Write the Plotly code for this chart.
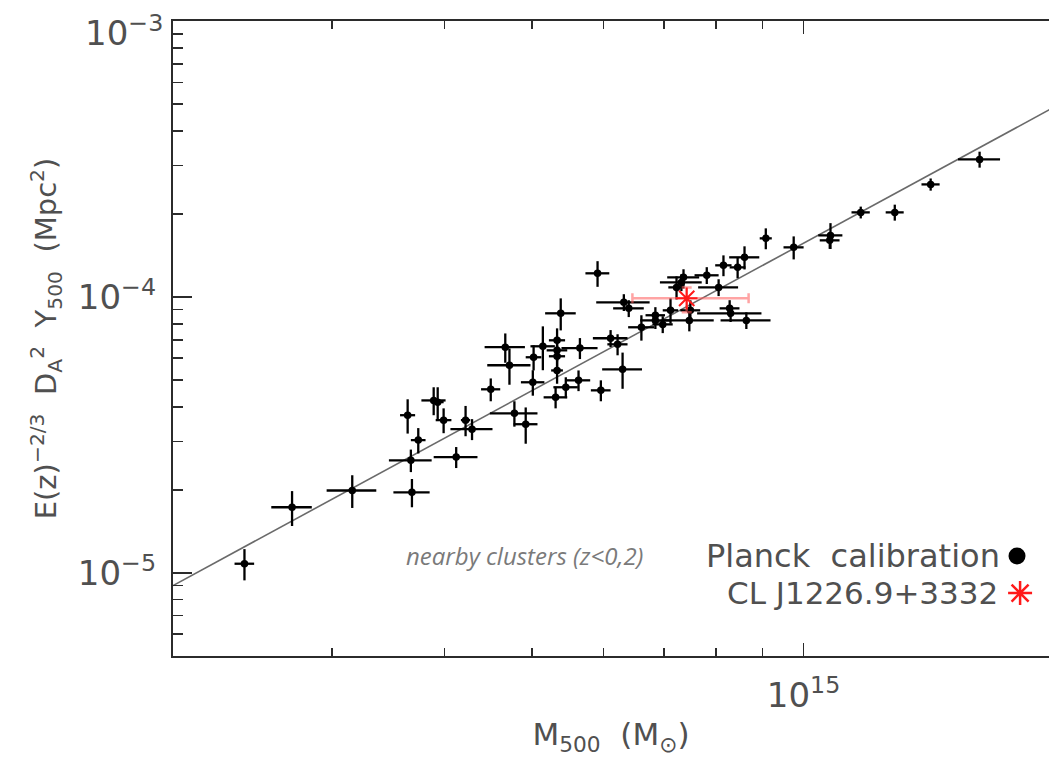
import plotly.graph_objects as go

# units: mass in 1e14 Msun, Y in 1e-5 Mpc^2
M_UNIT = 1e14
Y_UNIT = 1e-5

mass = [2.40, 2.71, 3.16, 3.67, 3.68, 3.64, 3.74, 3.89, 3.93, 3.99,
        4.22, 4.29, 4.12, 4.50, 4.72, 4.78, 4.92, 5.01, 4.67, 5.38,
        5.14, 5.02, 5.33, 5.33, 5.33, 5.33, 5.65, 6.11, 6.22, 6.30,
        5.45, 5.63, 5.96, 5.31, 5.91, 6.32, 6.40, 6.61, 6.85, 6.85,
        6.98, 7.12, 7.23, 7.36, 7.32, 7.49, 7.47, 7.81, 8.05, 8.15,
        8.45, 8.60, 9.08, 9.75, 8.28, 8.30, 8.64, 10.71, 10.69, 11.57,
        12.62, 13.83, 15.67]
mass_err = [0.06, 0.14, 0.20, 0.20, 0.17, 0.07, 0.07, 0.12, 0.06, 0.08,
            0.05, 0.23, 0.23, 0.11, 0.26, 0.29, 0.15, 0.15, 0.24, 0.21,
            0.16, 0.10, 0.11, 0.14, 0.11, 0.08, 0.26, 0.27, 0.16, 0.32,
            0.17, 0.17, 0.15, 0.16, 0.18, 0.43, 0.25, 0.22, 0.17, 0.26,
            0.18, 0.14, 0.15, 0.30, 0.39, 0.19, 0.48, 0.24, 0.41, 0.17,
            0.17, 0.33, 0.14, 0.25, 0.21, 0.68, 0.55, 0.33, 0.27, 0.27,
            0.29, 0.32, 0.84]
ysz = [1.08, 1.73, 1.99, 2.56, 1.96, 3.73, 3.03, 4.22, 4.16, 3.58,
       3.58, 3.32, 2.63, 4.63, 5.66, 3.79, 3.46, 4.91, 6.58, 8.73,
       6.63, 6.05, 6.97, 6.41, 6.10, 5.42, 6.53, 7.09, 6.74, 5.47,
       4.71, 4.99, 4.59, 4.33, 12.19, 9.57, 9.10, 7.77, 8.59, 8.23,
       7.96, 8.95, 10.84, 11.79, 11.30, 8.95, 8.23, 11.99, 10.84, 13.03,
       12.81, 13.93, 16.32, 15.14, 9.10, 8.73, 8.23, 16.73, 16.05, 20.27,
       20.27, 25.6, 31.54]
ysz_err = [0.14, 0.25, 0.27, 0.24, 0.23, 0.53, 0.32, 0.49, 0.55, 0.37,
           0.45, 0.29, 0.23, 0.44, 0.85, 0.40, 0.52, 0.52, 0.80, 1.16,
           1.20, 0.63, 0.73, 0.56, 0.53, 0.57, 0.57, 0.50, 0.59, 0.82,
           0.41, 0.43, 0.40, 0.38, 1.30, 0.67, 0.64, 0.82, 0.60, 0.57,
           0.56, 0.94, 1.04, 0.82, 0.79, 0.78, 0.72, 0.84, 0.76, 1.13,
           1.11, 1.34, 1.42, 1.45, 0.64, 0.61, 0.57, 1.80, 1.10, 1.00,
           1.35, 1.30, 2.10]

# CL J1226.9+3332
cl_mass = [7.42]
cl_mass_lo = [0.96]
cl_mass_hi = [1.27]
cl_y = [9.89]
cl_y_lo = [1.09]
cl_y_hi = [0.95]

# Planck scaling relation (end points)
fit_mass = [2.0, 19.0]
fit_y = [0.90, 49.0]

x_ticks = [1e15]
x_ticktext = ["10<sup>15</sup>"]
x_minor = [3e14, 4e14, 5e14, 6e14, 7e14, 8e14, 9e14]
y_ticks = [1e-5, 1e-4, 1e-3]
y_ticktext = ["10<sup>\u22125</sup>", "10<sup>\u22124</sup>", ""]
y_top_label = "10<sup>\u22123</sup>"
y_minor = [6e-6, 7e-6, 8e-6, 9e-6, 2e-5, 3e-5, 4e-5, 5e-5, 6e-5, 7e-5, 8e-5, 9e-5,
           2e-4, 3e-4, 4e-4, 5e-4, 6e-4, 7e-4, 8e-4, 9e-4]

def sc(v, u):
    return [a * u for a in v]

TXT = "#505050"
AX = "#2b2b2b"
FONT = "DejaVu Sans"
RED = "#ff1a1a"

fig = go.Figure()
fig.add_trace(go.Scatter(x=sc(fit_mass, M_UNIT), y=sc(fit_y, Y_UNIT), mode="lines",
                         line=dict(color="#6a6a6a", width=1.6), hoverinfo="skip"))
fig.add_trace(go.Scatter(
    x=sc(mass, M_UNIT), y=sc(ysz, Y_UNIT), mode="markers",
    marker=dict(color="black", size=7.5),
    error_x=dict(type="data", array=sc(mass_err, M_UNIT), color="black", thickness=2.3, width=0),
    error_y=dict(type="data", array=sc(ysz_err, Y_UNIT), color="black", thickness=2.3, width=0)))
fig.add_trace(go.Scatter(
    x=sc(cl_mass, M_UNIT), y=sc(cl_y, Y_UNIT), mode="markers",
    marker=dict(symbol="asterisk-open", size=18, color=RED, line=dict(color=RED, width=2)),
    error_x=dict(type="data", symmetric=False, array=sc(cl_mass_hi, M_UNIT),
                 arrayminus=sc(cl_mass_lo, M_UNIT), color="rgba(255,90,90,0.55)", thickness=2.5, width=5),
    error_y=dict(type="data", symmetric=False, array=sc(cl_y_hi, Y_UNIT),
                 arrayminus=sc(cl_y_lo, Y_UNIT), color="rgba(255,90,90,0.55)", thickness=2.5, width=5)))

# legend key symbols on an overlay axis in plot-fraction coordinates
fig.add_trace(go.Scatter(x=[0.9635], y=[0.1575], xaxis="x2", yaxis="y2", mode="markers",
                         marker=dict(color="black", size=17), hoverinfo="skip"))
fig.add_trace(go.Scatter(x=[0.967], y=[0.0992], xaxis="x2", yaxis="y2", mode="markers",
                         marker=dict(symbol="asterisk-open", size=20, color=RED,
                                     line=dict(color=RED, width=2.5)),
                         hoverinfo="skip"))

fig.update_layout(
    width=1049, height=763, showlegend=False,
    paper_bgcolor="white", plot_bgcolor="white",
    margin=dict(l=173, r=0, t=21, b=107),
    font=dict(family=FONT, color=TXT),
    xaxis=dict(type="log", range=[14.301, 15.272], showgrid=False, zeroline=False,
               showline=True, linecolor=AX, linewidth=2, mirror="ticks",
               ticks="inside", ticklen=13, tickwidth=1.6, tickcolor=AX,
               tickvals=x_ticks, ticktext=x_ticktext, tickfont=dict(size=34, color=TXT),
               ticklabelstandoff=8,
               minor=dict(tickvals=x_minor, ticks="inside", ticklen=8, tickwidth=1.6, tickcolor=AX, showgrid=False),
               title=dict(text="M<sub>500</sub>  (M<sub>\u2299</sub>)", font=dict(size=31, color=TXT), standoff=10)),
    yaxis=dict(type="log", range=[-5.301, -2.9995], showgrid=False, zeroline=False,
               showline=True, linecolor=AX, linewidth=2,
               ticks="inside", ticklen=19, tickwidth=1.6, tickcolor=AX,
               tickvals=y_ticks, ticktext=y_ticktext, tickfont=dict(size=34, color=TXT),
               ticklabelstandoff=8,
               minor=dict(tickvals=y_minor, ticks="inside", ticklen=10, tickwidth=1.6, tickcolor=AX, showgrid=False),
               title=dict(text="E(z)<sup>\u22122/3</sup>  D<sub>A</sub><sup>2</sup>  Y<sub>500</sub>  (Mpc<sup>2</sup>)",
                          font=dict(size=29, color=TXT), standoff=13)),
    xaxis2=dict(overlaying="x", range=[0, 1], visible=False),
    yaxis2=dict(overlaying="y", range=[0, 1], visible=False),
    annotations=[
        dict(text=y_top_label, xref="paper", yref="paper", x=0, y=1, xanchor="right", yanchor="top",
             xshift=-8, yshift=14, showarrow=False, font=dict(size=34, color=TXT)),
        dict(text="<i>nearby clusters (z&lt;0,2)</i>", xref="paper", yref="paper", x=0.5388, y=0.1575,
             xanchor="right", yanchor="middle", showarrow=False,
             font=dict(family="Open Sans", size=24, color="#7a7a7a")),
        dict(text="Planck  calibration", xref="paper", yref="paper", x=0.9463, y=0.1575,
             xanchor="right", yanchor="middle", showarrow=False, font=dict(size=32, color=TXT)),
        dict(text="CL J1226.9+3332", xref="paper", yref="paper", x=0.944, y=0.0992,
             xanchor="right", yanchor="middle", showarrow=False, font=dict(size=31, color=TXT)),
    ],
)

fig.write_html("out.html", config={"displayModeBar": False, "staticPlot": True},
               post_script="document.body.style.margin='0';document.body.style.overflow='hidden';")
